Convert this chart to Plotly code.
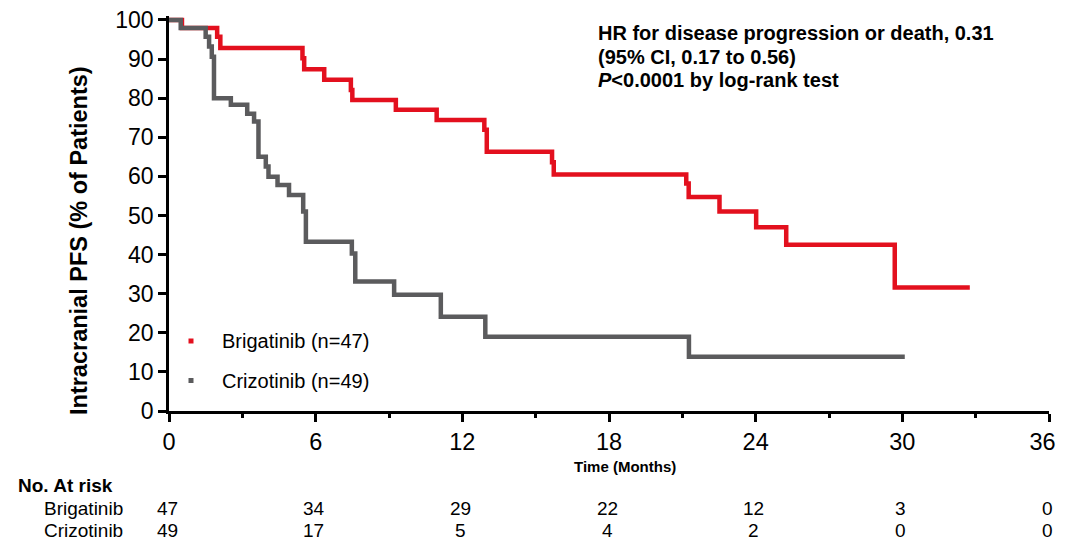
import plotly.graph_objects as go

# ---------------- data ----------------
months_brig = [0, 0.53, 1.97, 2.10, 5.46, 5.53, 6.35, 7.44, 7.50, 9.28, 10.95,
               12.90, 13.00, 15.67, 15.74, 21.16, 21.26, 22.52, 24.02, 25.25, 29.69, 32.76]
pfs_brig = [100, 97.9, 95.7, 92.8, 90.2, 87.4, 84.7, 82.1, 79.5, 77.0, 74.4,
            71.9, 66.3, 63.6, 60.5, 58.2, 54.7, 51.0, 47.0, 42.5, 31.6, 31.6]

months_criz = [0, 0.48, 1.50, 1.64, 1.75, 1.84, 2.53, 3.20, 3.48, 3.66, 3.96, 4.07,
               4.44, 4.91, 5.49, 5.60, 7.48, 7.62, 9.21, 11.12, 12.94, 21.27, 30.10]
pfs_criz = [100, 97.9, 95.7, 93.2, 90.6, 80.0, 78.3, 76.0, 74.0, 65.0, 62.5, 59.9,
            57.8, 55.2, 51.0, 43.3, 40.3, 33.1, 29.7, 24.1, 19.0, 13.9, 13.9]

x_ticks = [0, 6, 12, 18, 24, 30, 36]
x_tick_labels = ["0", "6", "12", "18", "24", "30", "36"]
y_ticks = [0, 10, 20, 30, 40, 50, 60, 70, 80, 90, 100]
risk_brig = [47, 34, 29, 22, 12, 3, 0]
risk_criz = [49, 17, 5, 4, 2, 0, 0]

series_names = ["Brigatinib (n=47)", "Crizotinib (n=49)"]
row_names = ["Brigatinib", "Crizotinib"]
RED = "#e3101e"
GRAY = "#5b5b5d"

# ---------------- geometry (page pixels; page body has an 8px margin) ----------------
OFF = 8
W, H = 1066 - OFF, 540 - OFF
PL, PR, PT, PB = 169, 1049, 16, 411          # plot area in page pixels
ML, MT = PL - OFF, PT - OFF
MR, MB = (1066 - OFF) - (PR - OFF), (540 - OFF) - (PB - OFF)
PW = PR - PL
PH = PB - PT


def xp(px):
    return (px - PL) / PW


def yp(py):
    return (PB - py) / PH


FONT = "Liberation Sans, Arial, Helvetica, sans-serif"

fig = go.Figure()
fig.add_trace(go.Scatter(x=months_brig, y=pfs_brig, mode="lines", line_shape="hv",
                         line=dict(color=RED, width=4.5), name=series_names[0], showlegend=False))
fig.add_trace(go.Scatter(x=months_criz, y=pfs_criz, mode="lines", line_shape="hv",
                         line=dict(color=GRAY, width=4.5), name=series_names[1], showlegend=False))

annotations = []
shapes = []

# legend
for i, (name, col) in enumerate(zip(series_names, [RED, GRAY])):
    cy = 341 + i * 39.5
    shapes.append(dict(type="rect", xref="paper", yref="paper",
                       x0=xp(188.5), x1=xp(193.5), y0=yp(cy - 2.5), y1=yp(cy + 2.5),
                       fillcolor=col, line=dict(width=0)))
    annotations.append(dict(text=name, xref="paper", yref="paper", x=xp(220), y=yp(cy),
                            xanchor="left", yanchor="middle", showarrow=False,
                            font=dict(family=FONT, size=20, color="black")))

# HR text
hr_lines = ["<b>HR for disease progression or death, 0.31</b>",
            "<b>(95% CI, 0.17 to 0.56)</b>",
            "<b><i>P</i>&lt;0.0001 by log-rank test</b>"]
for i, t in enumerate(hr_lines):
    annotations.append(dict(text=t, xref="paper", yref="paper", x=xp(596), y=yp(33 + i * 23.5),
                            xanchor="left", yanchor="middle", showarrow=False,
                            font=dict(family=FONT, size=20, color="black")))

# y title
annotations.append(dict(text="<b>Intracranial PFS (% of Patients)</b>", xref="paper", yref="paper",
                        x=xp(79), y=yp(241), textangle=-90, xanchor="center", yanchor="middle",
                        showarrow=False, font=dict(family=FONT, size=23.5, color="black")))

# x title
annotations.append(dict(text="<b>Time (Months)</b>", xref="paper", yref="paper",
                        x=xp(625), y=yp(466), xanchor="center", yanchor="middle",
                        showarrow=False, font=dict(family=FONT, size=15, color="black")))

# at-risk table
annotations.append(dict(text="<b>No. At risk</b>", xref="paper", yref="paper",
                        x=xp(16), y=yp(485), xanchor="left", yanchor="middle",
                        showarrow=False, font=dict(family=FONT, size=19, color="black")))
for r, (rname, vals) in enumerate(zip(row_names, [risk_brig, risk_criz])):
    cy = 508 + r * 22.5
    annotations.append(dict(text=rname, xref="paper", yref="paper", x=xp(125), y=yp(cy),
                            xanchor="right", yanchor="middle", showarrow=False,
                            font=dict(family=FONT, size=19, color="black")))
    for xv, v in zip(x_ticks, vals):
        annotations.append(dict(text=str(v), xref="x", yref="paper", x=xv, y=yp(cy),
                                xanchor="center", yanchor="middle", showarrow=False, xshift=-2,
                                font=dict(family=FONT, size=19, color="black")))

# last tick label padded so that it sits fully inside the page, as in the reference
x_ticktext = x_tick_labels[:-1] + [x_tick_labels[-1] + "\u00a0\u00a0"]

fig.update_layout(
    width=W, height=H,
    margin=dict(l=ML, r=MR, t=MT, b=MB, pad=0, autoexpand=False),
    plot_bgcolor="white", paper_bgcolor="white",
    showlegend=False,
    annotations=annotations, shapes=shapes,
    xaxis=dict(range=[0, 36], tickvals=x_ticks, ticktext=x_ticktext,
               showgrid=False, zeroline=False, showline=True, linecolor="black", linewidth=2.5,
               ticks="outside", ticklen=8, tickwidth=2.5, tickcolor="black",
               tickfont=dict(family=FONT, size=23.5, color="black"),
               ticklabeloverflow="allow", automargin=False,
               minor=dict(tickvals=[3, 9, 15, 21, 27, 33], ticks="outside", ticklen=4,
                          tickwidth=2.5, tickcolor="black", showgrid=False),
               fixedrange=True),
    yaxis=dict(range=[0, 101], tickvals=y_ticks, ticktext=[str(v) for v in y_ticks],
               showgrid=False, zeroline=False, showline=True, linecolor="black", linewidth=2.5,
               ticks="outside", ticklen=8, tickwidth=2.5, tickcolor="black",
               tickfont=dict(family=FONT, size=23, color="black"),
               ticklabeloverflow="allow", automargin=False,
               fixedrange=True),
)

fig.write_html("out.html", default_width=f"{W}px", default_height=f"{H}px")
